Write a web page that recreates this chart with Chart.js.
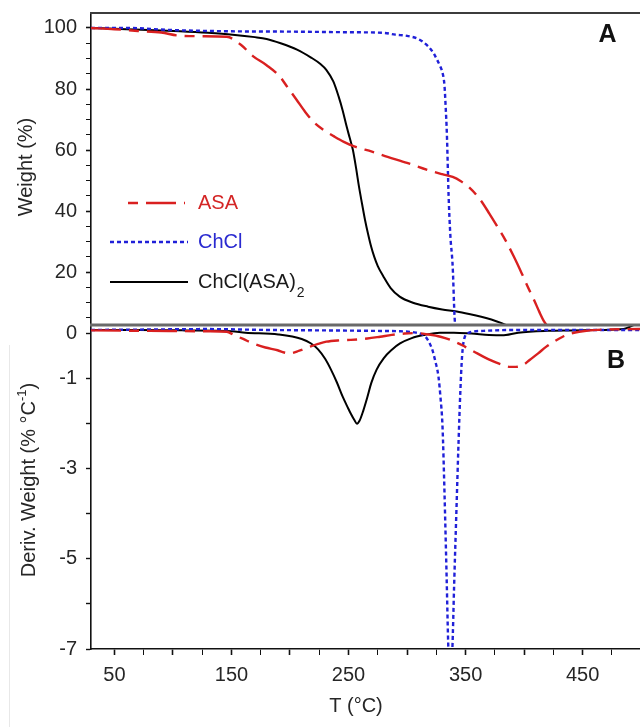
<!DOCTYPE html>
<html>
<head>
<meta charset="utf-8">
<script src="https://cdn.jsdelivr.net/npm/chart.js@4.4.1/dist/chart.umd.min.js"></script>
<style>
html,body{margin:0;padding:0;background:#fff;width:640px;height:727px;overflow:hidden;position:relative;}
#edge{position:absolute;left:9px;top:345px;width:1px;height:382px;background:#e8e8e8;}
#wa{position:absolute;left:0;top:0;width:640px;height:330px;}
#wb{position:absolute;left:0;top:318px;width:640px;height:409px;}
canvas{display:block;}
</style>
</head>
<body>
<div id="edge"></div>
<div id="wa"><canvas id="ca" width="640" height="330"></canvas></div>
<div id="wb"><canvas id="cb" width="640" height="409"></canvas></div>
<script>
// ---------------- DATA ----------------
// Panel A: TG curves, weight (%) vs T (°C)
const tgT_ASA  = [30, 50, 70, 90, 105, 125, 146, 158, 168.6, 180, 191.3, 198, 205.6, 213, 220.7, 229, 238, 246, 255.4, 270, 283.4, 300, 318.2, 330, 339, 346, 353, 362, 370.3, 377, 384, 391, 398, 403, 408.6, 413, 417.3, 425];
const tgW_ASA  = [100, 99.6, 99, 98.5, 97.5, 97.3, 97.1, 94.5, 90.7, 87.8, 84.1, 80.5, 76.5, 72.5, 69, 66.5, 64.4, 62.7, 61.1, 59.5, 57.8, 55.8, 53.4, 52.1, 51.2, 49.8, 47.8, 44, 39.2, 35, 30.5, 25.3, 19.6, 15.3, 10.8, 7, 3.7, 0];

const tgT_ChCl = [30, 60, 100, 150, 200, 250, 280, 290, 300, 310, 318, 323, 326, 328.5, 330.5, 332, 333, 334, 335.5, 337, 339, 340.6, 342];
const tgW_ChCl = [100, 100, 99.3, 98.9, 98.8, 98.6, 98.4, 97.8, 97.4, 96.3, 94, 91.5, 89.3, 87.3, 85, 81, 74, 65.5, 45, 32, 21.7, 5.3, 0];

const tgT_Mix  = [30, 60, 106, 130, 151, 170, 180, 192, 206, 218, 226, 231, 237, 241.5, 245, 248.4, 251, 253.7, 256.5, 258.9, 261.5, 264.1, 266.7, 269.3, 272, 275, 279.8, 286, 293.7, 305, 318, 330, 342.5, 353, 363.4, 372, 380.8, 395];
const tgW_Mix  = [100, 99.6, 98.9, 98.4, 97.8, 97, 96.4, 95, 92.9, 90.3, 88.2, 86.3, 82.5, 77.6, 73, 67.7, 64, 60.1, 54, 48.1, 42.5, 37.1, 32.5, 28.4, 25, 22, 18.6, 14.8, 12, 10, 8.7, 7.8, 7.1, 6.3, 5.4, 4.5, 3.3, 1.0];

// Panel B: DTG curves, deriv. weight (% °C-1) vs T (°C)
const dtgT_ASA  = [30, 80, 130, 146, 152, 160, 168.5, 179, 189.4, 195, 200, 208, 217.2, 224, 231, 242, 252, 266, 277, 287, 298, 308, 318, 328.5, 339, 349.4, 360, 370.3, 381, 388, 393, 399, 405, 412, 419, 426, 433, 440, 447, 468, 499];
const dtgV_ASA  = [0.07, 0.06, 0.05, 0.04, -0.03, -0.12, -0.22, -0.31, -0.37, -0.42, -0.44, -0.38, -0.29, -0.23, -0.18, -0.15, -0.14, -0.11, -0.07, -0.03, 0.0, 0.01, -0.02, -0.07, -0.16, -0.29, -0.44, -0.58, -0.69, -0.74, -0.74, -0.7, -0.58, -0.44, -0.29, -0.17, -0.07, 0.0, 0.04, 0.09, 0.1];

const dtgT_ChCl = [30, 80, 130, 180, 230, 270, 295, 305, 312, 316, 319, 321.7, 324, 326.8, 328.5, 330.3, 332, 333.8, 335.3, 337, 338.7, 340.2, 342.2, 344, 345.5, 347, 349, 353, 365, 400, 450, 499];
const dtgV_ChCl = [0.08, 0.09, 0.1, 0.08, 0.07, 0.06, 0.05, 0.03, -0.01, -0.08, -0.2, -0.37, -0.6, -0.95, -1.4, -2.07, -3.55, -5.4, -7.0, -7.6, -7.0, -5.6, -3.9, -2.4, -1.3, -0.5, -0.1, 0.02, 0.06, 0.08, 0.08, 0.08];

const dtgT_Mix  = [30, 70, 110, 150, 162, 190, 210, 218, 224, 230, 235, 240, 245, 249, 252, 255, 257.2, 259.5, 262.5, 266, 269.4, 274, 280, 287, 294, 304, 315, 328, 340, 355, 370, 381, 395, 420, 440, 465, 485, 493, 499];
const dtgV_Mix  = [0.08, 0.08, 0.07, 0.05, 0.02, -0.02, -0.12, -0.22, -0.35, -0.56, -0.8, -1.08, -1.4, -1.62, -1.78, -1.92, -2.0, -1.93, -1.72, -1.42, -1.1, -0.8, -0.55, -0.36, -0.22, -0.1, -0.03, 0.02, 0.02, 0.0, -0.03, -0.04, 0.02, 0.06, 0.07, 0.08, 0.1, 0.18, 0.25];

// Tick labels
const xTickLabels = [50, 150, 250, 350, 450];
const yTickLabelsA = [20, 40, 60, 80, 100];
const yTickLabelsB = [0, -1, -3, -5, -7];

// Legend labels
const legendLabels = [
  {main: 'ASA', sub: ''},
  {main: 'ChCl', sub: ''},
  {main: 'ChCl(ASA)', sub: '2'}
];

// ---------------- STYLE ----------------
const FONT = '"Liberation Sans", Arial, Helvetica, sans-serif';
const INK = '#262626';
const STY = [
  {color: '#d92020', text: '#d42626', dash: [30, 8, 10, 8], width: 2.4},
  {color: '#2020d8', text: '#2a2ad0', dash: [4, 3], width: 2.4},
  {color: '#000000', text: '#1a1a1a', dash: [], width: 2}
];
const XMIN = 30, XMAX = 499;

function pts(xs, ys) { return xs.map((x, i) => ({x: x, y: ys[i]})); }
function ds(label, xs, ys, s) {
  return {
    label: label, data: pts(xs, ys),
    borderColor: s.color, borderWidth: s.width, borderDash: s.dash,
    pointRadius: 0, fill: false, cubicInterpolationMode: 'monotone'
  };
}
function stepList(a, b, s) { const r = []; for (let v = a; s > 0 ? v <= b + 1e-9 : v >= b - 1e-9; v += s) r.push(Math.round(v * 100) / 100); return r; }
function fixY(w) {
  return function (scale) { scale.width = w; scale.paddingTop = 0; scale.paddingBottom = 0; };
}

// ---------------- PLUGINS ----------------
const panelA = {
  id: 'panelA',
  afterDraw(chart) {
    const ctx = chart.ctx, ca = chart.chartArea;
    ctx.save();
    // top frame line
    ctx.strokeStyle = '#3c3c3c'; ctx.lineWidth = 2; ctx.setLineDash([]);
    ctx.beginPath(); ctx.moveTo(ca.left - 1, ca.top); ctx.lineTo(ca.right, ca.top); ctx.stroke();
    // y title
    ctx.save();
    ctx.translate(26, 167); ctx.rotate(-Math.PI / 2);
    ctx.font = '20px ' + FONT; ctx.fillStyle = INK; ctx.textAlign = 'center'; ctx.textBaseline = 'middle';
    ctx.fillText('Weight (%)', 0, 0);
    ctx.restore();
    // panel letter
    ctx.font = 'bold 25px ' + FONT; ctx.fillStyle = '#111'; ctx.textAlign = 'center'; ctx.textBaseline = 'middle';
    ctx.fillText('A', 607.5, 35);
    // legend
    const rows = [
      {y: 203, x0: 128, x1: 185, off: 38},
      {y: 242, x0: 110, x1: 188, off: 0},
      {y: 282, x0: 110, x1: 188, off: 0}
    ];
    chart.data.datasets.forEach((d, i) => {
      const r = rows[i];
      ctx.strokeStyle = d.borderColor; ctx.lineWidth = d.borderWidth;
      ctx.setLineDash(d.borderDash || []); ctx.lineDashOffset = r.off;
      ctx.beginPath(); ctx.moveTo(r.x0, r.y); ctx.lineTo(r.x1, r.y); ctx.stroke();
      ctx.setLineDash([]); ctx.lineDashOffset = 0;
      const L = legendLabels[i];
      ctx.font = '20px ' + FONT; ctx.fillStyle = STY[i].text; ctx.textAlign = 'left'; ctx.textBaseline = 'middle';
      ctx.fillText(L.main, 198, r.y);
      if (L.sub) {
        const w = ctx.measureText(L.main).width;
        ctx.font = '14px ' + FONT;
        ctx.fillText(L.sub, 198 + w + 1, r.y + 11);
      }
    });
    ctx.restore();
  }
};

const panelB = {
  id: 'panelB',
  afterDraw(chart) {
    const ctx = chart.ctx, ca = chart.chartArea;
    ctx.save();
    // separator between panels
    ctx.strokeStyle = '#6a6a6a'; ctx.lineWidth = 3; ctx.setLineDash([]);
    ctx.beginPath(); ctx.moveTo(ca.left - 1, ca.top); ctx.lineTo(ca.right, ca.top); ctx.stroke();
    // y title with superscript
    ctx.save();
    ctx.translate(29, 162); ctx.rotate(-Math.PI / 2);
    ctx.fillStyle = INK; ctx.textBaseline = 'middle'; ctx.textAlign = 'left';
    const p1 = 'Deriv. Weight (% °C', sup = '-1', p2 = ')';
    ctx.font = '20px ' + FONT; const w1 = ctx.measureText(p1).width, w3 = ctx.measureText(p2).width;
    ctx.font = '13px ' + FONT; const w2 = ctx.measureText(sup).width;
    let x = -(w1 + w2 + w3) / 2;
    ctx.font = '20px ' + FONT; ctx.fillText(p1, x, 0); x += w1;
    ctx.font = '13px ' + FONT; ctx.fillText(sup, x, -7); x += w2;
    ctx.font = '20px ' + FONT; ctx.fillText(p2, x, 0);
    ctx.restore();
    // x title
    ctx.font = '20px ' + FONT; ctx.fillStyle = INK; ctx.textAlign = 'center'; ctx.textBaseline = 'middle';
    ctx.fillText('T (°C)', 356, 388);
    // panel letter
    ctx.font = 'bold 25px ' + FONT; ctx.fillStyle = '#111';
    ctx.fillText('B', 616, 43);
    ctx.restore();
  }
};

Chart.defaults.font.family = FONT;
Chart.defaults.font.size = 20;
Chart.defaults.color = INK;

// ---------------- PANEL A ----------------
new Chart(document.getElementById('ca'), {
  type: 'line',
  data: {datasets: [
    ds('ASA', tgT_ASA, tgW_ASA, STY[0]),
    ds('ChCl', tgT_ChCl, tgW_ChCl, STY[1]),
    ds('ChCl(ASA)2', tgT_Mix, tgW_Mix, STY[2])
  ]},
  options: {
    responsive: false, animation: false, devicePixelRatio: 1,
    layout: {padding: {top: 13, bottom: 5, left: 0, right: 0}},
    plugins: {legend: {display: false}, tooltip: {enabled: false}},
    scales: {
      x: {type: 'linear', min: XMIN, max: XMAX, display: false},
      y: {
        type: 'linear', min: 2.7, max: 104.9,
        afterBuildTicks: s => { s.ticks = stepList(5, 100, 5).map(v => ({value: v})); },
        afterFit: fixY(91),
        grid: {drawOnChartArea: false, drawTicks: true, tickLength: 5, tickColor: '#111',
               tickWidth: c => (c.tick && c.tick.value % 20 === 0) ? 1.6 : 1},
        border: {display: true, color: '#111', width: 1.6},
        ticks: {padding: 9, autoSkip: false, color: INK, font: {size: 20},
                callback: v => yTickLabelsA.includes(v) ? String(v) : ''}
      }
    }
  },
  plugins: [panelA]
});

// ---------------- PANEL B ----------------
new Chart(document.getElementById('cb'), {
  type: 'line',
  data: {datasets: [
    ds('ASA', dtgT_ASA, dtgV_ASA, STY[0]),
    ds('ChCl', dtgT_ChCl, dtgV_ChCl, STY[1]),
    ds('ChCl(ASA)2', dtgT_Mix, dtgV_Mix, STY[2])
  ]},
  options: {
    responsive: false, animation: false, devicePixelRatio: 1,
    layout: {padding: {top: 7, bottom: 0, left: 0, right: 0}},
    plugins: {legend: {display: false}, tooltip: {enabled: false}},
    scales: {
      x: {
        type: 'linear', min: XMIN, max: XMAX, position: 'bottom',
        afterBuildTicks: s => { s.ticks = stepList(50, 475, 25).map(v => ({value: v})); },
        afterFit: s => { s.height = 78; s.paddingLeft = 0; s.paddingRight = 0; },
        grid: {drawOnChartArea: false, drawTicks: true, tickLength: 6, tickColor: '#111',
               tickWidth: c => (c.tick && c.tick.value % 50 === 0) ? 1.6 : 1},
        border: {display: true, color: '#111', width: 1.6},
        ticks: {padding: 8, maxRotation: 0, autoSkip: false, color: INK, font: {size: 20},
                callback: v => xTickLabels.includes(v) ? String(v) : ''}
      },
      y: {
        type: 'linear', min: -7, max: 0.19,
        afterBuildTicks: s => { s.ticks = stepList(0, -7, -1).map(v => ({value: v})); },
        afterFit: fixY(91),
        grid: {drawOnChartArea: false, drawTicks: true, tickLength: 5, tickColor: '#111', tickWidth: 1.4},
        border: {display: true, color: '#111', width: 1.6},
        ticks: {padding: 9, autoSkip: false, color: INK, font: {size: 20},
                callback: v => yTickLabelsB.includes(v) ? String(v) : ''}
      }
    }
  },
  plugins: [panelB]
});
</script>
</body>
</html>
